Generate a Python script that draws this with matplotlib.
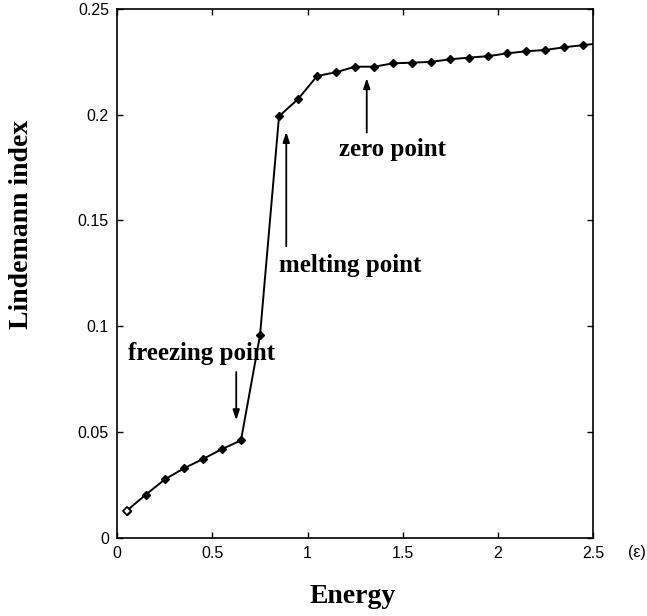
import numpy as np
import matplotlib
matplotlib.use("Agg")
import matplotlib.pyplot as plt

# energy (epsilon) and Lindemann index
energy = [0.05, 0.15, 0.25, 0.35, 0.45, 0.55, 0.65, 0.75, 0.85, 0.95,
          1.05, 1.15, 1.25, 1.35, 1.45, 1.55, 1.65, 1.75, 1.85, 1.95,
          2.05, 2.15, 2.25, 2.35, 2.45, 2.55]
lindemann = [0.0129, 0.0205, 0.0277, 0.0329, 0.0373, 0.0420, 0.0461, 0.0957,
             0.1992, 0.2073, 0.2182, 0.2200, 0.2226, 0.2226, 0.2242, 0.2245,
             0.2249, 0.2261, 0.2269, 0.2276, 0.2289, 0.2299, 0.2305, 0.2318,
             0.2328, 0.2338]

xticks = [0, 0.5, 1, 1.5, 2, 2.5]
xticklabels = ['0', '0.5', '1', '1.5', '2', '2.5']
yticks = [0, 0.05, 0.1, 0.15, 0.2, 0.25]
yticklabels = ['0', '0.05', '0.1', '0.15', '0.2', '0.25']

serif = 'Liberation Serif'
sans = 'Liberation Sans'

fig = plt.figure(figsize=(6.47, 6.16), dpi=100)
ax = fig.add_axes([0.1813, 0.1266, 0.7352, 0.8593])

ax.plot(energy, lindemann, color='black', lw=1.4, marker='D', ms=4.5,
        mfc='black', mec='black')
# first point is drawn open in the original
ax.plot(energy[:1], lindemann[:1], ls='none', marker='D', ms=4.5,
        mfc='white', mec='black', mew=1.2)

ax.set_xlim(0, 2.5)
ax.set_ylim(0, 0.25)
ax.set_xticks(xticks)
ax.set_xticklabels(xticklabels, fontfamily=sans, fontsize=11.5)
ax.set_yticks(yticks)
ax.set_yticklabels(yticklabels, fontfamily=sans, fontsize=11.5)
ax.tick_params(direction='in', length=4, width=1, top=True, right=True,
               pad=6)
for s in ax.spines.values():
    s.set_linewidth(1.2)

arrow = dict(arrowstyle='-|>,head_length=0.6,head_width=0.2', color='black',
             lw=1.3, shrinkA=0, shrinkB=0)
txt = dict(fontfamily=serif, fontweight='bold', fontsize=18)

ax.annotate('', xy=(0.625, 0.0556), xytext=(0.625, 0.0784), arrowprops=arrow)
ax.text(0.055, 0.0873, 'freezing point', ha='left', va='center', **txt)

ax.annotate('', xy=(0.888, 0.1918), xytext=(0.888, 0.1378), arrowprops=arrow)
ax.text(0.85, 0.1287, 'melting point', ha='left', va='center', **txt)

ax.annotate('', xy=(1.311, 0.2172), xytext=(1.311, 0.1915), arrowprops=arrow)
ax.text(1.165, 0.1833, 'zero point', ha='left', va='center', **txt)

fig.text(352.5 / 647, 1 - 596.7 / 616, 'Energy', ha='center', va='center',
         fontfamily=serif, fontweight='bold', fontsize=20)
fig.text(22 / 647, 1 - 224 / 616, 'Lindemann index', ha='center',
         va='center', rotation=90, fontfamily=serif, fontweight='bold',
         fontsize=20)
fig.text(637 / 647, 1 - 553 / 616, '(\u03b5)', ha='center', va='center',
         fontfamily=sans, fontsize=11.5)

fig.savefig('out.png', dpi=100)
